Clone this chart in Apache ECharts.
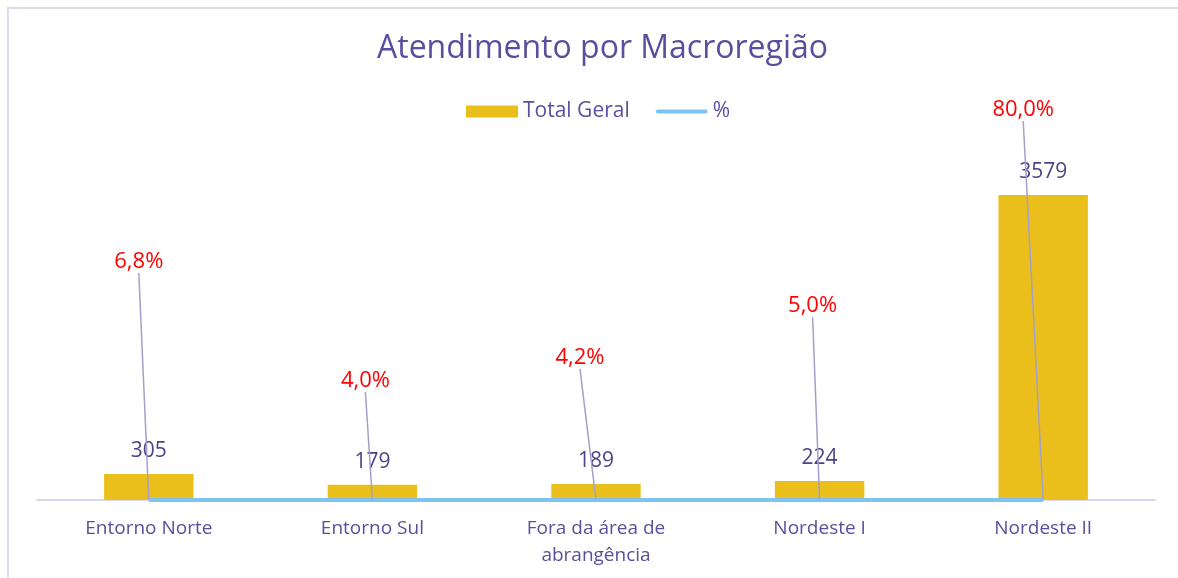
<!DOCTYPE html>
<html>
<head>
<meta charset="utf-8">
<title>Atendimento por Macroregião</title>
<script src="https://cdn.jsdelivr.net/npm/echarts@6/dist/echarts.min.js"></script>
<style>
  html, body { margin: 0; padding: 0; background: #fff; }
  #frame {
    position: absolute; left: 7px; top: 7px; right: 0; bottom: 0;
    border-left: 2px solid #dddbef; border-top: 2px solid #dddbef;
    pointer-events: none;
  }
  #chart { position: absolute; left: 0; top: 0; width: 1178px; height: 578px; }
</style>
</head>
<body>
<div id="chart"></div>
<div id="frame"></div>
<script>
// dados
const categories = ['Entorno Norte', 'Entorno Sul', 'Fora da área de\nabrangência', 'Nordeste I', 'Nordeste II']
const totalGeral = [305, 179, 189, 224, 3579]
const percentual = [0.068, 0.040, 0.042, 0.050, 0.800]

// deslocamento dos rótulos de % (arrastados no original)
const pctLabelOffset = [[-10, -238], [-7, -119], [-16, -142], [-7, -194], [-20, -390]]

const font = 'Open Sans'
const purple = '#5a4f9f'

const chart = echarts.init(document.getElementById('chart'))
const options = {
  backgroundColor: '#fff',
  textStyle: { fontFamily: font },
  title: {
    text: 'Atendimento por Macroregião',
    left: 372,
    top: 28,
    textStyle: { color: purple, fontSize: 32, fontWeight: 'normal', fontFamily: font }
  },
  legend: {
    top: 96,
    left: 461,
    itemGap: 26,
    itemWidth: 52,
    itemHeight: 12,
    textStyle: { color: purple, fontSize: 21, fontFamily: font },
    data: [
      { name: 'Total Geral', icon: 'rect' },
      { name: '%', icon: 'path://M2,0 L50,0 A2,2 0 0 1 50,4 L2,4 A2,2 0 0 1 2,0 Z', itemStyle: { color: '#7fc4f1' } }
    ]
  },
  grid: { left: 37, right: 23, top: 159, bottom: 78 },
  xAxis: {
    type: 'category',
    data: categories,
    axisLine: { lineStyle: { color: '#d9d7ee', width: 2 } },
    axisTick: { show: false },
    axisLabel: { color: purple, fontSize: 19, margin: 15, lineHeight: 27, interval: 0 }
  },
  yAxis: {
    type: 'value',
    min: 0,
    max: 4000,
    show: false,
    splitLine: { show: false }
  },
  series: [
    {
      name: 'Total Geral',
      type: 'bar',
      data: totalGeral,
      barWidth: '40%',
      itemStyle: { color: '#ebbf1b' },
      label: {
        show: true,
        position: 'top',
        distance: 12,
        color: '#4d4488',
        fontSize: 21,
        fontFamily: font
      }
    },
    {
      name: '%',
      type: 'line',
      data: percentual,
      symbol: 'circle',
      symbolSize: 1,
      showSymbol: true,
      itemStyle: { color: '#7fc4f1' },
      lineStyle: { color: '#7fc4f1', width: 4 },
      label: {
        show: true,
        position: 'inside',
        color: '#ff0000',
        fontSize: 22,
        fontFamily: font,
        formatter: (p) => (p.value * 100).toFixed(1).replace('.', ',') + '%'
      },
      labelLine: { show: true, lineStyle: { color: '#a49fcb', width: 1.5 } },
      labelLayout: (params) => ({
        dx: pctLabelOffset[params.dataIndex][0],
        dy: pctLabelOffset[params.dataIndex][1]
      }),
      z: 3
    }
  ]
}
chart.setOption(options, true)
</script>
</body>
</html>
